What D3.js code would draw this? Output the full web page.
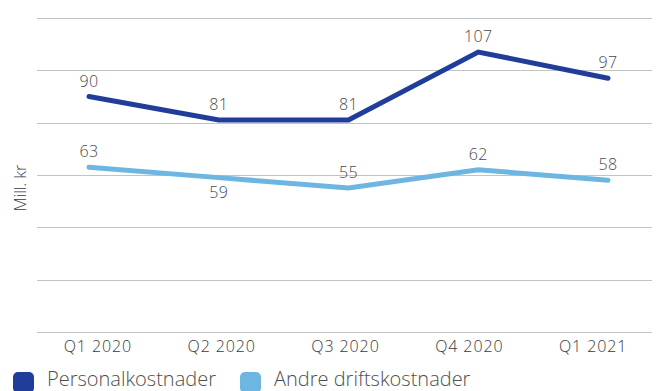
<!DOCTYPE html>
<html>
<head>
<meta charset="utf-8">
<script src="https://cdn.jsdelivr.net/npm/d3@7"></script>
<style>
  html, body { margin: 0; padding: 0; background: #fff; }
  svg { display: block; font-family: "Open Sans", "DejaVu Sans", sans-serif; font-weight: 300; }
</style>
</head>
<body>
<svg id="chart" width="656" height="391"></svg>
<script>
// Quarterly operating costs, NOK millions
const quarters = ["Q1 2020", "Q2 2020", "Q3 2020", "Q4 2020", "Q1 2021"];
const personalkostnader = [90, 81, 81, 107, 97];
const andreDriftskostnader = [63, 59, 55, 62, 58];
const seriesNames = ["Personalkostnader", "Andre driftskostnader"];
const yTicks = [0, 20, 40, 60, 80, 100, 120];
// label placement: +1 above the point, -1 below
const personalLabelSide = [1, 1, 1, 1, 1];
const andreLabelSide = [1, -1, 1, 1, 1];

const series = [
  { name: seriesNames[0], values: personalkostnader, side: personalLabelSide, color: "#1f3d99" },
  { name: seriesNames[1], values: andreDriftskostnader, side: andreLabelSide, color: "#6db6e2" }
];

const svg = d3.select("#chart");

const gridLeft = 37, gridRight = 652;
const y = d3.scaleLinear().domain([0, 120]).range([332, 18]);
const xBand = d3.scaleBand().domain(quarters).range([36, 655]);
const xPoint = d3.scalePoint().domain(quarters).range([89, 608]);

// horizontal gridlines
svg.append("g")
  .selectAll("line")
  .data(yTicks)
  .join("line")
  .attr("x1", gridLeft)
  .attr("x2", gridRight)
  .attr("y1", d => Math.round(y(d)) + 0.5)
  .attr("y2", d => Math.round(y(d)) + 0.5)
  .attr("stroke", "#c3c3c3")
  .attr("stroke-width", 1.2);

// category axis
const xAxis = svg.append("g")
  .attr("transform", "translate(0,332)")
  .call(d3.axisBottom(xBand).tickSize(0).tickPadding(9));
xAxis.select(".domain").remove();
xAxis.selectAll("text")
  .attr("font-size", 16)
  .attr("font-family", "'Open Sans', sans-serif")
  .attr("font-weight", 300)
  .attr("letter-spacing", 0.9)
  .attr("fill", "#3a3a3a");

// y-axis title
svg.append("text")
  .attr("transform", "translate(26,188) rotate(-90)")
  .attr("text-anchor", "middle")
  .attr("font-size", 16)
  .attr("fill", "#3a3a3a")
  .text("Mill. kr");

// lines
const line = d3.line()
  .x((d, i) => xPoint(quarters[i]))
  .y(d => y(d));

svg.append("g")
  .selectAll("path")
  .data(series)
  .join("path")
  .attr("d", s => line(s.values))
  .attr("fill", "none")
  .attr("stroke", s => s.color)
  .attr("stroke-width", 5)
  .attr("stroke-linecap", "round")
  .attr("stroke-linejoin", "miter");

// value labels
series.forEach(s => {
  svg.append("g")
    .selectAll("text")
    .data(s.values)
    .join("text")
    .attr("x", (d, i) => xPoint(quarters[i]))
    .attr("y", (d, i) => y(d) + (s.side[i] > 0 ? -10 : 20))
    .attr("text-anchor", "middle")
    .attr("font-size", 16)
    .attr("letter-spacing", 0.3)
    .attr("fill", "#4a4a4a")
    .text(d => d);
});

// legend
const legendX = [13, 240];
const legend = svg.append("g")
  .selectAll("g")
  .data(series)
  .join("g")
  .attr("transform", (s, i) => `translate(${legendX[i]},372)`);
legend.append("rect")
  .attr("width", 21)
  .attr("height", 21)
  .attr("rx", 5)
  .attr("fill", s => s.color);
legend.append("text")
  .attr("x", 34)
  .attr("y", 14)
  .attr("font-size", 20)
  .attr("fill", "#4f4f4f")
  .text(s => s.name);
</script>
</body>
</html>
